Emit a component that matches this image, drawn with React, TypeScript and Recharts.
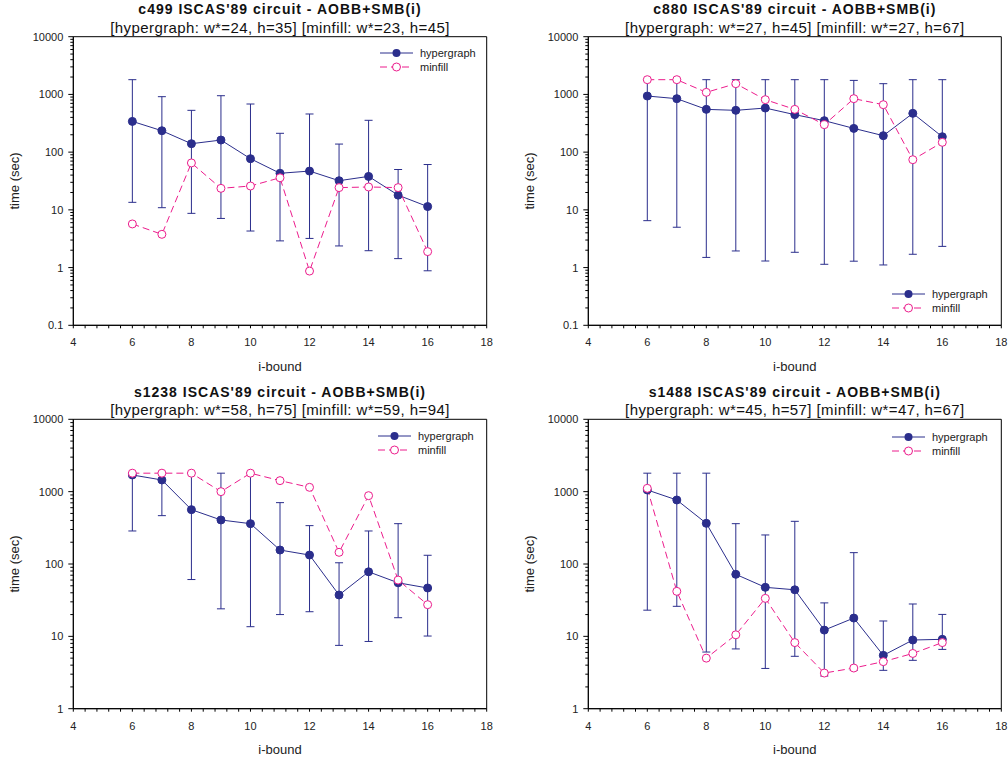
import * as React from "react";
import { ComposedChart, Line, XAxis, YAxis, ErrorBar, ReferenceArea } from "recharts";

const NAVY = "#2B2E8C";
const MAGENTA = "#EC1C8C";
const FONT = "'Liberation Sans', Arial, sans-serif";

const I_BOUND = [6, 7, 8, 9, 10, 11, 12, 13, 14, 15, 16];
const X_LABELS = [4, 6, 8, 10, 12, 14, 16, 18];

// c499
const C499_HYPER = [341, 235, 140, 162, 77, 43, 47, 32, 38, 18, 11.4];
const C499_HYPER_LOW = [13.5, 10.9, 8.7, 7.1, 4.3, 2.9, 3.2, 2.37, 1.96, 1.43, 0.88];
const C499_HYPER_HIGH = [1800, 914, 530, 950, 682, 212, 458, 138, 356, 50, 61];
const C499_MINFILL = [5.7, 3.77, 65, 23.6, 25.9, 36, 0.87, 24.3, 24.9, 24.3, 1.89];

// c880
const C880_HYPER = [938, 844, 551, 530, 581, 446, 351, 258, 193, 470, 185];
const C880_HYPER_LOW = [6.5, 5.0, 1.5, 1.94, 1.3, 1.84, 1.14, 1.29, 1.11, 1.7, 2.33];
const C880_HYPER_HIGH = [1800, 1800, 1800, 1800, 1800, 1800, 1800, 1750, 1535, 1800, 1800];
const C880_MINFILL = [1800, 1800, 1086, 1535, 811, 551, 299, 844, 664, 74, 148];

// s1238
const S1238_HYPER = [1700, 1450, 564, 406, 361, 156, 133, 37.3, 78, 55, 46.6];
const S1238_HYPER_LOW = [286, 466, 61, 24, 13.6, 20, 21.9, 7.5, 8.5, 18.1, 10.1];
const S1238_HYPER_HIGH = [1800, 1800, 1800, 1800, 1800, 705, 339, 104, 286, 361, 132];
const S1238_MINFILL = [1800, 1800, 1800, 1000, 1800, 1420, 1148, 145, 880, 60, 27.4];

// s1488
const S1488_HYPER = [1055, 767, 365, 72, 47.6, 44, 12.2, 17.9, 5.46, 8.9, 9.1];
const S1488_HYPER_LOW = [23, 26, 6.07, 6.7, 3.6, 5.3, 2.83, 3.4, 3.39, 4.66, 6.6];
const S1488_HYPER_HIGH = [1800, 1800, 1800, 361, 252, 389, 29, 143.5, 16.3, 28, 20.1];
const S1488_MINFILL = [1112, 41.9, 5.0, 10.5, 33.5, 8.2, 3.11, 3.65, 4.47, 5.8, 8.2];

const Y_LABELS_WIDE = [0.1, 1, 10, 100, 1000, 10000];
const Y_LABELS_NARROW = [1, 10, 100, 1000, 10000];

// minor ticks every 0.4 on x, 1..9 per decade on y
const X_TICKS = Array.from({ length: 36 }, (_, i) => Math.round((4 + i * 0.4) * 10) / 10);
function decadeTicks(labels: number[]) {
  const out: number[] = [];
  labels.forEach((d, idx) => {
    if (idx === labels.length - 1) {
      out.push(d);
      return;
    }
    for (let k = 1; k < 10; k++) out.push(d * k);
  });
  return out;
}

interface PanelProps {
  left: number;
  top: number;
  plotLeft: number;
  plotRight: number;
  plotTop: number;
  plotBottom: number;
  title: string;
  subtitle: string;
  hyper: number[];
  low: number[];
  high: number[];
  minfill: number[];
  yLabels: number[];
  legendY: number;
  legendX: number;
}

function XTick(props: any) {
  const { x, y, payload } = props;
  const v = payload.value;
  return (
    <g>
      <line x1={x} x2={x} y1={y} y2={y + 3} stroke="#000" />
      {X_LABELS.includes(v) && (
        <text x={x} y={y + 17} textAnchor="middle" dominantBaseline="central" fontSize={11} fill="#222" fontFamily={FONT}>
          {v}
        </text>
      )}
    </g>
  );
}

function makeYTick(labels: number[]) {
  return function YTick(props: any) {
    const { x, y, payload } = props;
    const v = payload.value;
    const major = labels.some((l) => Math.abs(l - v) < 1e-9);
    return (
      <g>
        <line x1={x - (major ? 5 : 3)} x2={x} y1={y} y2={y} stroke="#000" />
        {major && (
          <text x={x - 10} y={y} textAnchor="end" dominantBaseline="central" fontSize={11} fill="#222" fontFamily={FONT}>
            {v}
          </text>
        )}
      </g>
    );
  };
}

function Panel(p: PanelProps) {
  const data = I_BOUND.map((i, k) => ({
    i,
    hyper: p.hyper[k],
    err: [p.hyper[k] - p.low[k], p.high[k] - p.hyper[k]],
    minfill: p.minfill[k],
  }));
  const yMin = p.yLabels[0];
  const yMax = p.yLabels[p.yLabels.length - 1];
  const cx = (p.plotLeft + p.plotRight) / 2;
  const cy = (p.plotTop + p.plotBottom) / 2;
  const YTick = makeYTick(p.yLabels);
  const lx1 = p.legendX;
  const lx2 = p.legendX + 33;
  const lmid = (lx1 + lx2) / 2;

  return (
    <div style={{ position: "absolute", left: p.left, top: p.top, width: 504, height: 380 }}>
      <ComposedChart
        width={504}
        height={380}
        data={data}
        margin={{ top: p.plotTop, right: 504 - p.plotRight, bottom: 0, left: 0 }}
      >
        <XAxis
          dataKey="i"
          type="number"
          domain={[4, 18]}
          ticks={X_TICKS}
          interval={0}
          height={380 - p.plotBottom}
          tickSize={0}
          tickMargin={0}
          tickLine={false}
          axisLine={{ stroke: "#000" }}
          tick={<XTick />}
        />
        <YAxis
          type="number"
          scale="log"
          domain={[yMin, yMax]}
          allowDataOverflow
          ticks={decadeTicks(p.yLabels)}
          interval={0}
          width={p.plotLeft}
          tickSize={0}
          tickMargin={0}
          tickLine={false}
          axisLine={{ stroke: "#000" }}
          tick={<YTick />}
        />
        <ReferenceArea x1={4} x2={18} y1={yMin} y2={yMax} fill="none" fillOpacity={0} stroke="#000" strokeWidth={1} />
        <Line
          dataKey="hyper"
          stroke={NAVY}
          strokeWidth={1}
          isAnimationActive={false}
          dot={{ r: 4, fill: NAVY, stroke: NAVY, strokeWidth: 1 }}
        >
          <ErrorBar dataKey="err" direction="y" width={4} stroke={NAVY} strokeWidth={1} />
        </Line>
        <Line
          dataKey="minfill"
          stroke={MAGENTA}
          strokeWidth={1}
          strokeDasharray="7 4"
          isAnimationActive={false}
          dot={(d: any) => (
            <circle key={`m-${d.index}`} cx={d.cx} cy={d.cy} r={4} fill="#fff" stroke={MAGENTA} strokeWidth={1} />
          )}
        />
      </ComposedChart>
      <svg width={504} height={380} style={{ position: "absolute", left: 0, top: 0, pointerEvents: "none" }} fontFamily={FONT}>
        <text x={cx} y={p.plotTop - 27.5} textAnchor="middle" dominantBaseline="central" fontSize={14} fontWeight="bold" letterSpacing={1} fill="#111">
          {p.title}
        </text>
        <text x={cx} y={p.plotTop - 9.5} textAnchor="middle" dominantBaseline="central" fontSize={15} letterSpacing={0.4} fill="#111">
          {p.subtitle}
        </text>
        <text
          x={p.plotLeft - (p.plotLeft > 80 ? 59 : 59)}
          y={cy}
          textAnchor="middle"
          dominantBaseline="central"
          fontSize={13}
          fill="#222"
          transform={`rotate(-90 ${p.plotLeft - 59} ${cy})`}
        >
          time (sec)
        </text>
        <text x={cx} y={p.plotBottom + 41} textAnchor="middle" dominantBaseline="central" fontSize={13} fill="#222">
          i-bound
        </text>
        <line x1={lx1} x2={lx2} y1={p.legendY} y2={p.legendY} stroke={NAVY} strokeWidth={1} />
        <circle cx={lmid} cy={p.legendY} r={4} fill={NAVY} />
        <text x={lx2 + 7} y={p.legendY} dominantBaseline="central" fontSize={11} fill="#222">
          hypergraph
        </text>
        <line x1={lx1} x2={lx2} y1={p.legendY + 14} y2={p.legendY + 14} stroke={MAGENTA} strokeWidth={1} strokeDasharray="7 4" />
        <circle cx={lmid} cy={p.legendY + 14} r={4} fill="#fff" stroke={MAGENTA} />
        <text x={lx2 + 7} y={p.legendY + 14} dominantBaseline="central" fontSize={11} fill="#222">
          minfill
        </text>
      </svg>
    </div>
  );
}

export default function App() {
  return (
    <div style={{ position: "absolute", left: 0, top: 0, width: 1008, height: 761, background: "#fff", fontFamily: FONT }}>
      <Panel
        left={0}
        top={0}
        plotLeft={73.3}
        plotRight={486.7}
        plotTop={36.7}
        plotBottom={325.3}
        title="c499 ISCAS'89 circuit - AOBB+SMB(i)"
        subtitle="[hypergraph: w*=24, h=35] [minfill: w*=23, h=45]"
        hyper={C499_HYPER}
        low={C499_HYPER_LOW}
        high={C499_HYPER_HIGH}
        minfill={C499_MINFILL}
        yLabels={Y_LABELS_WIDE}
        legendX={380}
        legendY={53}
      />
      <Panel
        left={504}
        top={0}
        plotLeft={84.3}
        plotRight={497.3}
        plotTop={36.7}
        plotBottom={325.3}
        title="c880 ISCAS'89 circuit - AOBB+SMB(i)"
        subtitle="[hypergraph: w*=27, h=45] [minfill: w*=27, h=67]"
        hyper={C880_HYPER}
        low={C880_HYPER_LOW}
        high={C880_HYPER_HIGH}
        minfill={C880_MINFILL}
        yLabels={Y_LABELS_WIDE}
        legendX={388}
        legendY={294}
      />
      <Panel
        left={0}
        top={380}
        plotLeft={73.3}
        plotRight={486.7}
        plotTop={39.3}
        plotBottom={328.7}
        title="s1238 ISCAS'89 circuit - AOBB+SMB(i)"
        subtitle="[hypergraph: w*=58, h=75] [minfill: w*=59, h=94]"
        hyper={S1238_HYPER}
        low={S1238_HYPER_LOW}
        high={S1238_HYPER_HIGH}
        minfill={S1238_MINFILL}
        yLabels={Y_LABELS_NARROW}
        legendX={378}
        legendY={56}
      />
      <Panel
        left={504}
        top={380}
        plotLeft={84.3}
        plotRight={497.3}
        plotTop={39.3}
        plotBottom={328.7}
        title="s1488 ISCAS'89 circuit - AOBB+SMB(i)"
        subtitle="[hypergraph: w*=45, h=57] [minfill: w*=47, h=67]"
        hyper={S1488_HYPER}
        low={S1488_HYPER_LOW}
        high={S1488_HYPER_HIGH}
        minfill={S1488_MINFILL}
        yLabels={Y_LABELS_NARROW}
        legendX={388}
        legendY={57}
      />
    </div>
  );
}
